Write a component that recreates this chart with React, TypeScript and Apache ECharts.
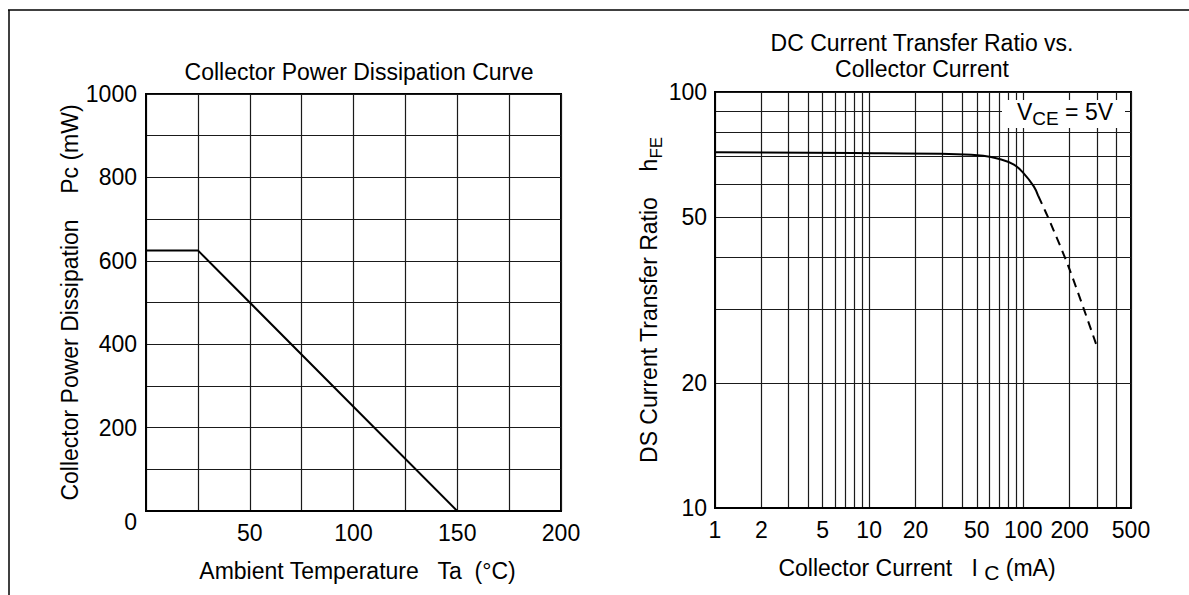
import React, { useEffect, useRef } from "react";
import * as echarts from "echarts";

// Left chart: collector power dissipation derating
const tempTicks = [0, 25, 50, 75, 100, 125, 150, 175, 200];
const tempLabels = [50, 100, 150, 200];
const powerLabels = [0, 200, 400, 600, 800, 1000];
const derating: [number, number][] = [
  [0, 625],
  [25, 625],
  [150, 0],
];

// Right chart: hFE vs Ic
const icGrid = [1, 2, 3, 4, 5, 6, 7, 8, 9, 10, 20, 30, 40, 50, 60, 70, 80, 90, 100, 200, 300, 400, 500];
const icLabels = [1, 2, 5, 10, 20, 50, 100, 200, 500];
const hfeGrid = [10, 20, 30, 40, 50, 60, 70, 80, 90, 100];
const hfeLabels = [10, 20, 50, 100];
const hfeSolid: [number, number][] = [
  [1, 71.6],
  [8, 71.3],
  [37, 70.9],
  [55, 70.3],
  [70, 69.0],
  [87, 66.9],
  [100, 63.9],
  [117, 59.3],
  [125, 56.3],
];
const hfeDashed: [number, number][] = [
  [125, 56.3],
  [150, 48.5],
  [200, 37.4],
  [300, 24.5],
];

const FONT = "'Liberation Sans', Arial, Helvetica, sans-serif";
const FS = 23;

export default function App() {
  const ref = useRef<HTMLDivElement>(null);

  useEffect(() => {
    document.body.style.margin = "0";
    document.body.style.overflow = "hidden";
    if (!ref.current) return;
    const chart = echarts.init(ref.current, undefined, { renderer: "svg" });

    const split = { show: true, lineStyle: { color: "#1a1a1a", width: 1.2 } };
    const axisLine = { show: true, lineStyle: { color: "#000", width: 2 } };
    const labelStyle = { color: "#000", fontSize: FS, fontFamily: FONT };

    chart.setOption({
      animation: false,
      backgroundColor: "#fff",
      textStyle: { fontFamily: FONT, color: "#000" },
      title: [
        {
          text: "Collector Power Dissipation Curve",
          left: 354,
          top: 55,
          textAlign: "center",
          textStyle: { fontSize: FS, fontWeight: "normal", color: "#000", fontFamily: FONT },
        },
        {
          text: "DC Current Transfer Ratio vs.\nCollector Current",
          left: 917,
          top: 25,
          textAlign: "center",
          textStyle: { fontSize: FS, lineHeight: 26, fontWeight: "normal", color: "#000", fontFamily: FONT },
        },
      ],
      grid: [
        { left: 146, top: 94, width: 415, height: 417, show: true, borderColor: "#000", borderWidth: 2, containLabel: false },
        { left: 715, top: 92, width: 416, height: 416, show: true, borderColor: "#000", borderWidth: 2, containLabel: false },
      ],
      xAxis: [
        {
          gridIndex: 0,
          type: "value",
          min: tempTicks[0],
          max: tempTicks[tempTicks.length - 1],
          interval: 25,
          axisLine,
          axisTick: { show: false },
          splitLine: split,
          axisLabel: {
            ...labelStyle,
            margin: 10,
            formatter: (v: number) => (tempLabels.includes(v) ? String(v) : ""),
          },
          name: "{a|Ambient Temperature   Ta  (°C)}",
          nameLocation: "middle",
          nameGap: 48,
          nameTextStyle: {
            rich: { a: { fontSize: FS, fontFamily: FONT, color: "#000", padding: [0, 0, 0, 8] } },
          },
        },
        {
          gridIndex: 1,
          type: "log",
          logBase: 10,
          min: 1,
          max: 500,
          axisLine,
          axisTick: { show: false, customValues: icGrid },
          splitLine: split,
          axisLabel: { ...labelStyle, margin: 10, customValues: icLabels },
          name: "{a|Collector Current   I }{s|C}{a| (mA)}",
          nameLocation: "middle",
          nameGap: 48,
          nameTextStyle: {
            padding: [0, 12, 0, 0],
            rich: {
              a: { fontSize: FS, fontFamily: FONT, color: "#000", lineHeight: 27, verticalAlign: "top" },
              s: { fontSize: 21, fontFamily: FONT, color: "#000", lineHeight: 21, padding: [6, 0, 0, 0], verticalAlign: "top" },
            },
          },
        },
      ],
      yAxis: [
        {
          gridIndex: 0,
          type: "value",
          min: 0,
          max: 1000,
          interval: 100,
          axisLine,
          axisTick: { show: false },
          splitLine: split,
          axisLabel: {
            ...labelStyle,
            margin: 9,
            formatter: (v: number) => (v === 0 ? "{z|0}" : powerLabels.includes(v) ? String(v) : ""),
            rich: { z: { fontSize: FS, fontFamily: FONT, color: "#000", padding: [22, 0, 0, 0] } },
          },
          name: "{a|Collector Power Dissipation    Pc (mW)}",
          nameLocation: "middle",
          nameRotate: 90,
          nameGap: 60,
          nameTextStyle: {
            rich: { a: { fontSize: FS, fontFamily: FONT, color: "#000" } },
          },
        },
        {
          gridIndex: 1,
          type: "log",
          logBase: 10,
          min: 10,
          max: 100,
          axisLine,
          axisTick: { show: false, customValues: hfeGrid },
          splitLine: split,
          axisLabel: { ...labelStyle, margin: 8, customValues: hfeLabels },
          name: "{a|DS Current Transfer Ratio    h}{s|FE}",
          nameLocation: "middle",
          nameRotate: 90,
          nameGap: 46,
          nameTextStyle: {
            rich: {
              a: { fontSize: FS, fontFamily: FONT, color: "#000", lineHeight: 27, verticalAlign: "top" },
              s: { fontSize: 17, fontFamily: FONT, color: "#000", lineHeight: 17, padding: [10, 0, 0, 0], verticalAlign: "top" },
            },
          },
        },
      ],
      series: [
        {
          type: "line",
          xAxisIndex: 0,
          yAxisIndex: 0,
          data: derating,
          symbol: "none",
          lineStyle: { color: "#000", width: 2 },
          z: 5,
        },
        {
          type: "line",
          xAxisIndex: 1,
          yAxisIndex: 1,
          data: hfeSolid,
          smooth: 0.4,
          symbol: "none",
          lineStyle: { color: "#000", width: 2 },
          z: 5,
        },
        {
          type: "line",
          xAxisIndex: 1,
          yAxisIndex: 1,
          data: hfeDashed,
          smooth: 0.3,
          symbol: "none",
          lineStyle: { color: "#000", width: 2, type: [9, 6] },
          z: 5,
        },
      ],
      graphic: [
        { type: "line", shape: { x1: 8, y1: 10, x2: 1189, y2: 10 }, style: { stroke: "#000", lineWidth: 1.5 } },
        { type: "line", shape: { x1: 9, y1: 10, x2: 9, y2: 595 }, style: { stroke: "#000", lineWidth: 1.5 } },
        {
          type: "rect",
          shape: { x: 1002, y: 100, width: 123, height: 28 },
          style: { fill: "#fff" },
          z: 10,
        },
        {
          type: "text",
          x: 1065,
          y: 114,
          z: 11,
          style: {
            text: "{a|V}{s|CE}{a| = 5V}",
            align: "center",
            verticalAlign: "middle",
            rich: {
              a: { fontSize: FS, fontFamily: FONT, fill: "#000", lineHeight: 27, verticalAlign: "top" },
              s: { fontSize: 19, fontFamily: FONT, fill: "#000", lineHeight: 19, padding: [8, 0, 0, 0], verticalAlign: "top" },
            },
          },
        },
      ],
    });

    return () => chart.dispose();
  }, []);

  return <div ref={ref} style={{ width: 1189, height: 595 }} />;
}
